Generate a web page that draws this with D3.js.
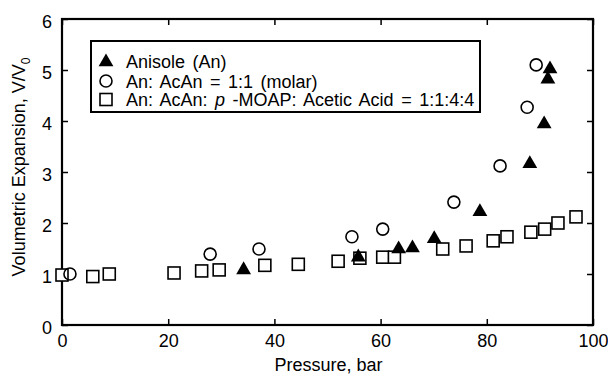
<!DOCTYPE html>
<html>
<head>
<meta charset="utf-8">
<script src="https://cdn.jsdelivr.net/npm/d3@7/dist/d3.min.js"></script>
<style>
  html, body { margin: 0; padding: 0; background: #fff; }
  svg text { font-family: "Liberation Sans", Arial, Helvetica, sans-serif; fill: #000; }
</style>
</head>
<body>
<svg id="chart" width="608" height="374"></svg>
<script>
// Anisole (An)
const anisoleP = [34.2, 55.8, 63.4, 66.0, 70.1, 78.7, 88.1, 90.8, 91.5, 91.9];
const anisoleV = [1.1, 1.35, 1.51, 1.53, 1.71, 2.24, 3.18, 3.96, 4.84, 5.04];
// An: AcAn = 1:1 (molar)
const acanP = [1.5, 27.9, 37.1, 54.6, 60.4, 73.8, 82.5, 87.6, 89.3];
const acanV = [1.0, 1.39, 1.49, 1.73, 1.88, 2.41, 3.12, 4.27, 5.1];
// An: AcAn: p-MOAP: Acetic Acid = 1:1:4:4
const mixP = [0, 5.8, 8.9, 21.1, 26.3, 29.6, 38.2, 44.5, 52.0, 56.1, 60.4, 62.6, 71.7, 76.1, 81.2, 83.8, 88.3, 90.9, 93.4, 96.8];
const mixV = [0.98, 0.95, 1.0, 1.02, 1.06, 1.08, 1.17, 1.19, 1.25, 1.31, 1.33, 1.33, 1.49, 1.55, 1.65, 1.73, 1.82, 1.88, 2.0, 2.12];

const xTicks = [0, 20, 40, 60, 80, 100];
const yTicks = [0, 1, 2, 3, 4, 5, 6];

const svg = d3.select("#chart");
const mLeft = 62, mRight = 593, mTop = 19, mBottom = 325;

const x = d3.scaleLinear().domain([0, 100]).range([mLeft, mRight]);
const y = d3.scaleLinear().domain([0, 6]).range([mBottom, mTop]);

const tickLen = 6;
const fmt = d3.format("d");

// Axes with inward ticks on all four sides
const axB = svg.append("g").attr("transform", `translate(0,${mBottom})`)
  .call(d3.axisBottom(x).tickValues(xTicks).tickFormat(fmt).tickSizeInner(-tickLen).tickSizeOuter(0).tickPadding(9));
const axT = svg.append("g").attr("transform", `translate(0,${mTop})`)
  .call(d3.axisTop(x).tickValues(xTicks).tickSizeInner(-tickLen).tickSizeOuter(0).tickFormat(""));
const axL = svg.append("g").attr("transform", `translate(${mLeft},0)`)
  .call(d3.axisLeft(y).tickValues(yTicks).tickFormat(fmt).tickSizeInner(-tickLen).tickSizeOuter(0).tickPadding(10));
const axR = svg.append("g").attr("transform", `translate(${mRight},0)`)
  .call(d3.axisRight(y).tickValues(yTicks).tickSizeInner(-tickLen).tickSizeOuter(0).tickFormat(""));

[axB, axT, axL, axR].forEach(a => {
  a.select(".domain").remove();
  a.selectAll(".tick line").attr("stroke", "#000").attr("stroke-width", 1.5);
  a.selectAll(".tick text").style("font-size", "18px").attr("fill", "#000");
});
axL.selectAll(".tick text").attr("dy", "0.45em");

// Frame
svg.append("rect")
  .attr("x", mLeft).attr("y", mTop)
  .attr("width", mRight - mLeft).attr("height", mBottom - mTop)
  .attr("fill", "none").attr("stroke", "#000").attr("stroke-width", 2.2);

// Axis titles
svg.append("text")
  .attr("x", (mLeft + mRight) / 2 + 1).attr("y", 371)
  .attr("text-anchor", "middle").style("font-size", "18px")
  .text("Pressure, bar");

const yTitle = svg.append("text")
  .attr("transform", `translate(25,167) rotate(-90)`)
  .attr("text-anchor", "middle").style("font-size", "18px");
yTitle.append("tspan").text("Volumetric Expansion, V/V");
yTitle.append("tspan").attr("dy", 5).style("font-size", "12px").text("0");

// Marker shapes
const triPath = d3.symbol().type(d3.symbolTriangle).size(95)();
const sq = 12;

const plot = svg.append("g");

function drawSquares(g, px, py) {
  g.selectAll(null).data(px.map((p, i) => [p, py[i]])).enter()
    .append("rect")
    .attr("x", d => x(d[0]) - sq / 2).attr("y", d => y(d[1]) - sq / 2)
    .attr("width", sq).attr("height", sq)
    .attr("fill", "#fff").attr("stroke", "#000").attr("stroke-width", 1.6);
}
function drawCircles(g, px, py) {
  g.selectAll(null).data(px.map((p, i) => [p, py[i]])).enter()
    .append("circle")
    .attr("cx", d => x(d[0])).attr("cy", d => y(d[1])).attr("r", 6)
    .attr("fill", "none").attr("stroke", "#000").attr("stroke-width", 1.6);
}
function drawTriangles(g, px, py) {
  g.selectAll(null).data(px.map((p, i) => [p, py[i]])).enter()
    .append("path")
    .attr("d", triPath)
    .attr("transform", d => `translate(${x(d[0])},${y(d[1]) + 1})`)
    .attr("fill", "#000");
}

drawSquares(plot.append("g"), mixP, mixV);
drawCircles(plot.append("g"), acanP, acanV);
drawTriangles(plot.append("g"), anisoleP, anisoleV);

// Legend
const lg = svg.append("g");
lg.append("rect")
  .attr("x", 91).attr("y", 41).attr("width", 389).attr("height", 71)
  .attr("fill", "#fff").attr("stroke", "#000").attr("stroke-width", 2);

const baselines = [68, 87.5, 106];
const sx = 106, tx = 126;
lg.append("path").attr("d", triPath).attr("transform", `translate(${sx},${baselines[0] - 6})`).attr("fill", "#000");
lg.append("circle").attr("cx", sx).attr("cy", baselines[1] - 6.5).attr("r", 6)
  .attr("fill", "none").attr("stroke", "#000").attr("stroke-width", 1.6);
lg.append("rect").attr("x", sx - sq / 2).attr("y", baselines[2] - 6.5 - sq / 2).attr("width", sq).attr("height", sq)
  .attr("fill", "#fff").attr("stroke", "#000").attr("stroke-width", 1.6);

const legendText = (yy) => lg.append("text").attr("x", tx).attr("y", yy)
  .style("font-size", "18px").style("word-spacing", "2.5px");
legendText(baselines[0]).text("Anisole (An)");
legendText(baselines[1]).text("An: AcAn = 1:1 (molar)");
const t3 = legendText(baselines[2]);
t3.append("tspan").text("An: AcAn: ");
t3.append("tspan").style("font-style", "italic").text("p");
t3.append("tspan").text(" -MOAP: Acetic Acid = 1:1:4:4");
</script>
</body>
</html>
